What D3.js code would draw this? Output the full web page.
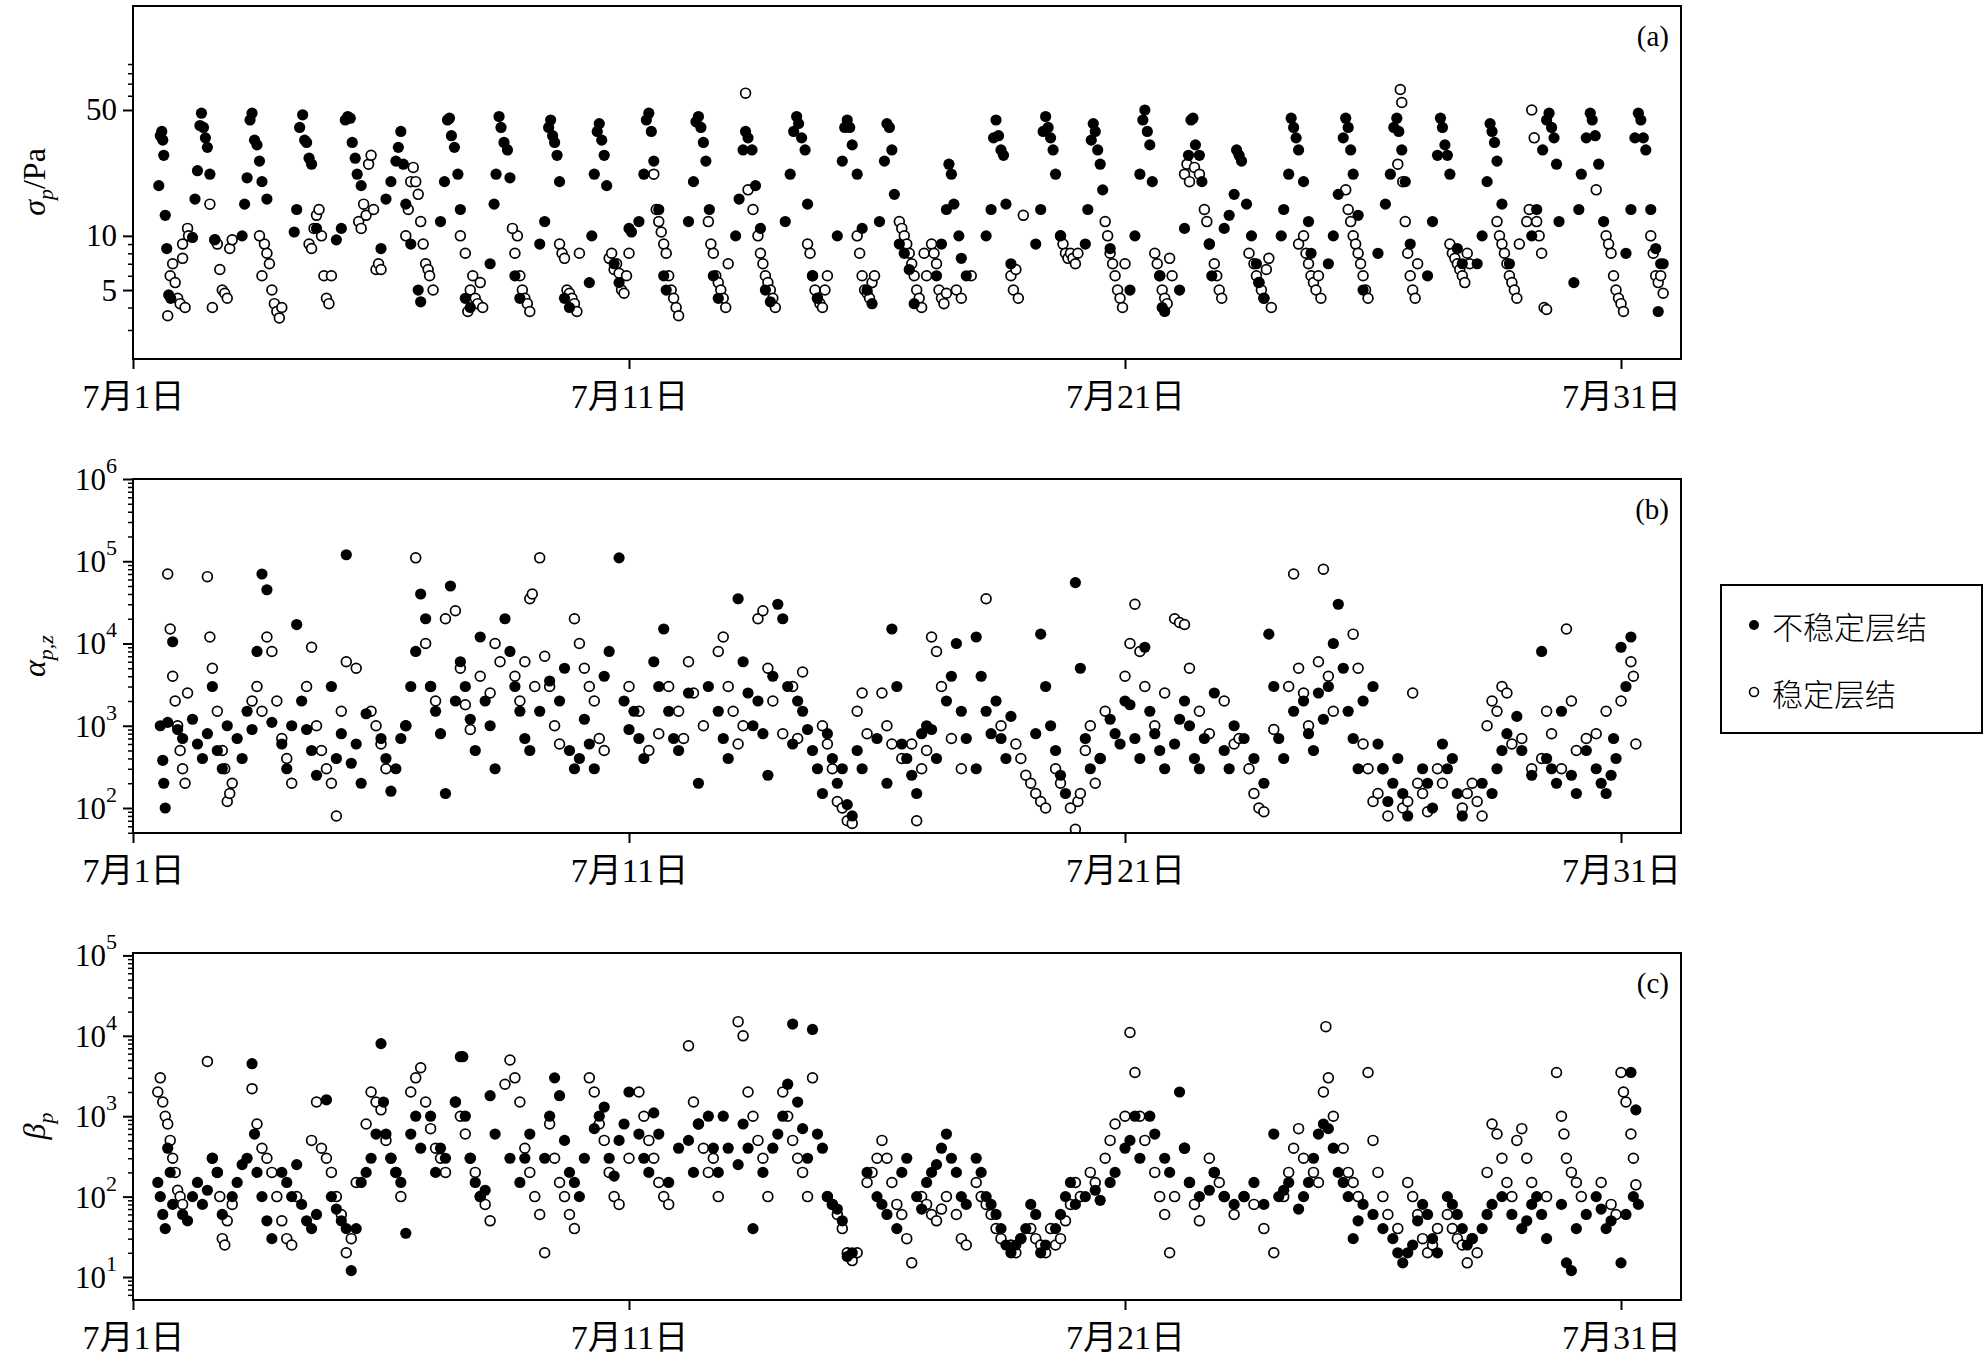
<!DOCTYPE html>
<html><head><meta charset="utf-8">
<script src="https://cdn.jsdelivr.net/npm/d3@7"></script>
<style>body{margin:0;background:#fff}</style></head><body>
<script>
const xTickDays=[1,11,21,31];
const xTickLabels=["7月1日","7月11日","7月21日","7月31日"];
const legendLabels=["不稳定层结","稳定层结"];
const aTicks=[5,10,50];
const aMinor=[3,4,6,7,8,9,60,70,80,90];
const bTicks=[2,3,4,5,6];
const cTicks=[1,2,3,4,5];
const minorMult=[2,3,4,5,6,7,8,9];

const PA_U=[[1.52,19],[1.55,36],[1.58,38],[1.6,34],[1.62,28],[1.65,13],[1.68,8.5],[1.72,4.7],[1.76,4.5],
[2.2,9.8],[2.25,16],[2.3,23],[2.35,41],[2.38,48],[2.42,40],[2.46,35],[2.5,31],[2.55,22],[2.65,9.5],
[3.2,10],[3.25,15],[3.3,21],[3.36,44],[3.4,48],[3.45,34],[3.5,32],[3.55,26],[3.6,20],[3.7,16],
[4.25,10.5],[4.3,14],[4.36,40],[4.42,47],[4.46,34],[4.5,33],[4.55,27],[4.6,25],[4.7,11],
[5.1,9.5],[5.2,11],[5.28,44],[5.33,46],[5.38,45],[5.42,33],[5.48,27],[5.52,22],[5.6,19],
[6.0,8.5],[6.1,16],[6.2,20],[6.3,26],[6.35,31],[6.4,38],[6.45,25],[6.5,15],[6.6,9],[6.75,5],[6.8,4.3],
[7.2,12],[7.28,20],[7.34,44],[7.38,45],[7.42,36],[7.48,31],[7.55,22],[7.6,14],[7.7,4.5],[7.8,4],
[8.2,7],[8.28,15],[8.32,22],[8.38,46],[8.42,40],[8.48,33],[8.55,30],[8.6,21],[8.7,6],[8.8,4.5],
[9.2,9],[9.3,12],[9.38,40],[9.42,44],[9.46,36],[9.5,33],[9.55,28],[9.6,20],[9.7,4.5],[9.8,4],
[10.2,5.5],[10.25,10],[10.3,22],[10.36,38],[10.4,42],[10.45,34],[10.5,28],[10.55,19],[10.7,7],[10.8,5.5],
[11.0,11],[11.05,10.5],[11.2,12],[11.3,22],[11.35,44],[11.4,48],[11.45,38],[11.5,26],[11.6,14],[11.7,6],[11.75,5],
[12.2,12],[12.3,20],[12.35,43],[12.4,46],[12.45,40],[12.5,33],[12.55,26],[12.62,14],[12.7,6],[12.8,4.5],
[13.15,10],[13.22,16],[13.3,30],[13.35,38],[13.4,35],[13.48,30],[13.55,19],[13.65,11],[13.75,5],[13.85,4.3],
[14.15,12],[14.25,22],[14.32,38],[14.38,46],[14.42,42],[14.48,35],[14.55,30],[14.6,15],[14.7,6],[14.8,4.5],
[15.2,10],[15.3,26],[15.35,40],[15.4,44],[15.45,40],[15.5,32],[15.6,22],[15.7,11],[15.8,5],[15.9,4.2],
[16.05,12],[16.15,26],[16.2,42],[16.25,40],[16.3,30],[16.35,17],[16.45,9],[16.55,8],[16.65,6.5],[16.75,4.2],
[17.2,6],[17.3,9],[17.4,14],[17.45,25],[17.5,22],[17.55,15],[17.65,10],[17.7,7.5],[17.8,6],
[18.2,10],[18.3,14],[18.35,35],[18.4,44],[18.45,36],[18.5,30],[18.55,28],[18.6,15],[18.7,7],
[19.2,9],[19.3,14],[19.35,38],[19.4,46],[19.45,40],[19.5,35],[19.55,30],[19.6,22],[19.7,10],
[20.2,9],[20.25,14],[20.32,34],[20.36,42],[20.4,38],[20.45,30],[20.5,25],[20.55,18],[20.7,8.5],
[21.1,5],[21.2,10],[21.3,22],[21.36,44],[21.4,50],[21.45,38],[21.5,32],[21.55,20],[21.7,6],[21.75,4],[21.8,3.8],
[22.1,5],[22.2,11],[22.28,28],[22.33,44],[22.37,45],[22.42,32],[22.5,28],[22.55,20],[22.7,9],[22.75,6],
[23.0,11],[23.1,13],[23.2,17],[23.25,30],[23.3,28],[23.35,26],[23.45,15],[23.55,10],[23.65,7],[23.7,5.5],[23.8,4.5],
[24.15,10],[24.2,14],[24.3,22],[24.35,45],[24.4,40],[24.45,35],[24.5,30],[24.6,20],[24.7,12],[24.75,8],
[25.1,7],[25.2,10],[25.3,17],[25.4,35],[25.45,45],[25.5,40],[25.55,30],[25.6,22],[25.7,13],[25.8,5],
[26.1,8],[26.25,15],[26.35,22],[26.42,40],[26.48,45],[26.52,38],[26.58,30],[26.65,20],[26.75,9],
[27.1,6],[27.2,12],[27.3,28],[27.36,45],[27.4,40],[27.45,32],[27.5,28],[27.55,22],[27.7,8.5],[27.8,7],
[28.1,7],[28.2,10],[28.3,20],[28.36,42],[28.4,38],[28.45,33],[28.5,26],[28.6,15],[28.75,7],
[29.2,10],[29.3,14],[29.42,30],[29.5,44],[29.55,48],[29.6,40],[29.65,35],[29.7,25],[29.75,12],
[30.05,5.5],[30.15,14],[30.2,22],[30.3,35],[30.38,48],[30.42,44],[30.48,36],[30.55,25],[30.65,12],
[31.1,8],[31.2,14],[31.28,35],[31.35,48],[31.4,44],[31.45,35],[31.5,30],[31.6,14],[31.7,8.5],[31.75,3.8],[31.8,7],[31.85,7]];

const PA_S=[[1.75,6],[1.8,7],[1.85,5.5],[1.9,4.5],[1.95,4.2],[2.0,7.5],[2.05,4],[2.1,11],[2.12,10],[1.7,3.6],[2.0,9],
[2.6,4],[2.65,9.5],[2.7,9],[2.75,6.5],[2.8,5],[2.85,4.8],[2.9,4.5],[2.95,8.5],[3.0,9.5],[2.55,15],
[3.6,6],[3.65,9],[3.7,8],[3.75,7],[3.8,5],[3.85,4.2],[3.9,3.8],[3.95,3.5],[4.0,4],[3.55,10],
[4.55,9],[4.6,8.5],[4.65,11],[4.7,13],[4.75,14],[4.8,10],[4.85,6],[4.9,4.5],[4.95,4.2],[5.0,6],
[5.55,12],[5.6,11],[5.65,15],[5.7,13],[5.75,25],[5.8,28],[5.85,14],[5.9,6.5],[5.95,7],[6.0,6.5],
[6.5,10],[6.55,14],[6.6,20],[6.65,24],[6.7,20],[6.75,17],[6.8,12],[6.85,9],[6.9,7],[6.95,6.5],
[6.98,6],[7.05,5],[7.8,5],[7.85,6],[7.9,4.5],[7.95,4.2],[8.0,5.5],[8.05,4],[7.75,3.8],[7.6,10],[7.7,8],
[8.7,8],[8.75,10],[8.8,6],[8.85,5],[8.9,4.5],[8.95,4.2],[9.0,3.8],[8.65,11],
[9.6,9],[9.65,8],[9.7,7.5],[9.75,5],[9.8,4.8],[9.85,4.5],[9.9,4.2],[9.95,3.8],[10.0,8],
[10.6,7.5],[10.65,8],[10.7,6.5],[10.75,7],[10.8,6.2],[10.85,5],[10.9,4.8],[10.95,6],[11.0,8],
[11.55,14],[11.6,12],[11.65,10.5],[11.7,9],[11.75,8],[11.8,6],[11.85,5],[11.9,4.5],[11.95,4],[12.0,3.6],[11.5,22],
[12.6,12],[12.65,9],[12.7,8],[12.75,6],[12.8,5.5],[12.85,5],[12.9,4.5],[12.95,4],[13.0,7],
[13.6,10],[13.65,8],[13.7,7],[13.75,6],[13.8,5.5],[13.85,5],[13.9,4.5],[13.95,4],[13.35,62],[13.4,18],[13.5,14],
[14.6,9],[14.65,8],[14.7,6],[14.75,5],[14.8,4.5],[14.85,4.2],[14.9,4],[14.95,5],[15.0,6],
[15.6,10],[15.65,8],[15.7,6],[15.75,5],[15.8,4.8],[15.85,4.5],[15.9,5.5],[15.95,6],
[16.45,12],[16.5,11],[16.55,10],[16.6,9],[16.65,8],[16.7,7],[16.75,6],[16.8,5],[16.85,4.5],[16.9,4],[16.95,8],[17.0,6],
[17.1,9],[17.15,8],[17.2,7],[17.25,5],[17.3,4.5],[17.35,4.2],[17.4,4.8],[17.6,5],[17.7,4.5],[17.9,6],
[18.7,6],[18.75,5],[18.8,6.5],[18.85,4.5],[18.95,13],
[19.7,10],[19.75,9],[19.8,8],[19.85,7.5],[19.9,8],[19.95,7.5],[20.0,7],[20.05,8],
[20.6,12],[20.65,10],[20.7,8],[20.75,7],[20.8,6],[20.85,5],[20.9,4.5],[20.95,4],[21.0,7],
[21.6,8],[21.65,7],[21.7,6],[21.75,5],[21.8,4.5],[21.85,4.2],[21.9,7.5],[21.95,6],
[22.2,22],[22.25,25],[22.3,20],[22.4,24],[22.5,22],[22.6,14],[22.65,12],[22.7,9],[22.8,7],[22.85,6],[22.9,5],[22.95,4.5],
[23.5,8],[23.6,7],[23.65,6],[23.7,5.5],[23.75,5],[23.8,4.5],[23.85,6.5],[23.9,7.5],[23.95,4],
[24.5,9],[24.6,10],[24.65,8],[24.7,7],[24.75,6],[24.8,5.5],[24.85,5],[24.9,6],[24.95,4.5],
[25.55,12],[25.6,10],[25.65,9],[25.7,8],[25.75,7],[25.8,6],[25.85,5],[25.9,4.5],[25.45,18],[25.5,14],
[26.5,25],[26.55,65],[26.58,55],[26.6,20],[26.65,12],[26.7,8],[26.75,6],[26.8,5],[26.85,4.5],[26.9,7],
[27.55,9],[27.6,8],[27.65,7.5],[27.7,7],[27.75,6.5],[27.8,6],[27.85,5.5],[27.9,8],[27.95,7],
[28.5,12],[28.55,10],[28.6,9],[28.65,8],[28.7,7],[28.75,6],[28.8,5.5],[28.85,5],[28.9,4.5],[28.95,9],
[29.1,12],[29.15,14],[29.2,50],[29.25,35],[29.3,12],[29.35,10],[29.4,8],[29.45,4],[29.5,3.9],
[30.7,10],[30.75,9],[30.8,8],[30.85,6],[30.9,5],[30.95,4.5],[31.0,4.2],[31.05,3.8],[30.5,18],
[31.6,10],[31.65,8],[31.7,6],[31.75,5.5],[31.8,6],[31.85,4.8]];

const PB_U=[[1.55,1000],[1.6,380],[1.62,200],[1.65,100],[1.7,1100],[1.8,10500],[1.9,900],[2.0,700],
[2.2,1200],[2.3,600],[2.4,400],[2.5,800],[2.6,3000],[2.7,500],[2.8,300],[2.9,1000],
[3.1,700],[3.2,400],[3.3,1500],[3.4,900],[3.5,8000],[3.6,70000],[3.7,45000],[3.8,1100],
[4.0,600],[4.1,300],[4.2,1000],[4.3,17000],[4.4,2000],[4.5,900],[4.6,500],[4.7,250],
[5.0,3000],[5.1,400],[5.2,800],[5.3,120000],[5.4,350],[5.5,600],[5.6,200],[5.7,1400],
[6.0,700],[6.1,400],[6.2,160],[6.3,300],[6.4,700],[6.5,1000],[6.6,3000],[6.7,8000],
[6.8,40000],[6.9,20000],[7.0,3000],[7.1,1500],[7.2,800],[7.3,150],[7.4,50000],[7.5,2000],
[7.6,6000],[7.7,3000],[7.8,1200],[7.9,500],[8.0,12000],[8.1,2000],[8.2,1000],[8.3,300],
[8.5,20000],[8.6,8000],[8.7,3000],[8.8,1500],[8.9,700],[9.0,500],[9.2,1500],[9.4,3500],
[9.6,2000],[9.7,5000],[9.8,500],[9.9,300],[10.0,400],[10.1,1200],[10.2,600],[10.3,300],
[10.5,4000],[10.6,8000],[10.8,110000],[10.9,2000],[11.0,900],[11.1,1500],[11.2,700],[11.3,400],
[11.5,6000],[11.6,3000],[11.7,15000],[11.8,1500],[11.9,700],[12.0,500],[12.2,2500],[12.4,200],
[12.6,3000],[12.8,1500],[12.9,700],[13.0,400],[13.2,35000],[13.3,6000],[13.4,2500],[13.5,1000],
[13.6,2000],[13.7,800],[13.8,250],[13.9,4000],[14.0,30000],[14.1,20000],[14.2,3000],[14.3,600],
[14.4,2000],[14.5,1500],[14.6,900],[14.7,500],[14.8,300],[14.9,150],[15.0,800],[15.1,400],
[15.2,200],[15.3,300],[15.4,110],[15.5,80],[15.6,500],[15.7,300],[16.0,700],[16.2,200],
[16.3,15000],[16.4,3000],[16.5,600],[16.6,400],[16.7,250],[16.8,150],[16.9,800],[17.0,1000],
[17.1,900],[17.2,400],[17.4,2000],[17.5,4000],[17.6,10000],[17.7,1500],[17.8,700],[18.0,300],
[18.0,12000],[18.1,4000],[18.2,1500],[18.3,800],[18.4,2000],[18.5,700],[18.6,400],[18.7,1300],
[19.2,800],[19.3,13000],[19.4,3000],[19.5,1000],[19.6,500],[19.7,250],[19.8,150],[20.0,55000],
[20.1,5000],[20.2,700],[20.3,300],[20.5,400],[20.7,1200],[20.8,800],[20.9,600],[21.0,2000],
[21.1,1800],[21.2,700],[21.3,400],[21.4,9000],[21.5,1500],[21.6,800],[21.7,500],[21.8,300],
[22.0,600],[22.1,1200],[22.2,2000],[22.3,1000],[22.4,400],[22.5,300],[22.6,700],[22.8,2500],
[23.0,500],[23.1,300],[23.2,1000],[23.4,700],[23.6,400],[23.8,200],[23.9,13000],[24.0,3000],
[24.1,700],[24.2,400],[24.4,1500],[24.6,2000],[24.7,800],[24.8,500],[24.9,2500],[25.0,1200],
[25.1,3000],[25.2,10000],[25.3,30000],[25.4,5000],[25.5,1500],[25.6,700],[25.7,300],[25.8,2000],
[26.0,3000],[26.1,600],[26.2,300],[26.3,120],[26.4,200],[26.5,400],[26.6,150],[26.7,80],
[27.0,300],[27.1,200],[27.2,100],[27.4,600],[27.5,300],[27.6,400],[27.7,150],[27.8,80],
[28.2,200],[28.4,150],[28.5,300],[28.6,500],[28.7,800],[28.9,1300],[29.0,500],[29.2,250],
[29.4,8000],[29.5,400],[29.6,300],[29.7,200],[29.8,1500],[30.0,250],[30.1,150],[30.3,500],
[30.5,300],[30.6,200],[30.7,150],[30.8,250],[30.9,400],[31.0,9000],[31.1,3000],[31.2,12000],[30.85,700]];

const PB_S=[[1.7,70000],[1.75,15000],[1.8,4000],[1.85,2000],[1.9,1000],[1.95,500],[2.0,300],[2.05,200],[2.1,2500],
[2.5,65000],[2.55,12000],[2.6,5000],[2.7,1500],[2.8,500],[2.85,300],[2.9,120],[2.95,150],[3.0,200],
[3.4,2000],[3.5,3000],[3.6,1500],[3.7,12000],[3.8,8000],[3.9,2000],[4.0,700],[4.1,400],[4.2,200],
[4.5,3000],[4.6,9000],[4.7,1000],[4.8,500],[4.9,300],[5.0,200],[5.1,80],[5.2,1500],[5.3,6000],[5.5,5000],
[5.8,1500],[5.9,1000],[6.0,600],[6.1,300],[6.5,1000],[6.7,110000],[6.9,10000],[7.0,3000],[7.1,2000],
[7.3,20000],[7.5,25000],[7.6,5000],[7.7,1800],[7.8,900],[8.0,4000],[8.2,2500],[8.3,10000],[8.4,6000],
[8.7,4000],[8.8,2000],[8.9,6000],[9.0,35000],[9.05,40000],[9.1,3000],[9.2,110000],[9.3,7000],[9.4,3000],[9.5,1000],[9.6,600],
[9.9,20000],[10.0,10000],[10.1,5000],[10.2,3000],[10.3,2000],[10.4,700],[10.5,500],
[11.0,3000],[11.2,1500],[11.4,500],[11.6,800],[11.8,3000],[12.0,1500],[12.1,700],[12.2,6000],[12.3,2500],[12.5,1000],
[12.8,8000],[12.9,12000],[13.0,3000],[13.1,1500],[13.2,600],[13.3,1000],
[13.6,20000],[13.7,25000],[13.8,5000],[13.9,2000],[14.1,800],[14.3,3000],[14.4,700],[14.5,4500],
[14.9,1000],[15.0,600],[15.1,300],[15.2,120],[15.3,100],[15.4,70],[15.5,65],[15.6,1500],[15.7,2500],[15.8,800],
[16.1,2500],[16.2,1000],[16.3,600],[16.5,400],[16.7,600],[16.8,70],[16.9,300],[17.0,500],[17.1,12000],[17.2,8000],[17.3,3000],[17.5,700],[17.7,300],
[18.2,35000],[18.5,1000],[18.8,600],[18.9,400],[19.0,250],[19.1,200],[19.2,150],[19.3,120],[19.4,100],[19.6,300],[19.7,200],
[19.9,100],[20.0,55],[20.05,120],[20.1,150],[20.2,500],[20.3,1000],[20.4,200],[20.5,400],[20.6,1500],
[21.0,4000],[21.1,10000],[21.2,30000],[21.3,8000],[21.4,3000],[21.6,1000],[21.8,2500],[22.0,20000],[22.1,18000],[22.2,17000],[22.3,5000],[22.5,1500],[22.7,800],
[23.0,2000],[23.2,600],[23.3,700],[23.5,300],[23.6,150],[23.7,100],[23.8,90],[24.0,900],
[24.3,3000],[24.4,70000],[24.5,5000],[24.6,2500],[24.7,1000],[24.9,6000],[25.0,80000],[25.1,4000],[25.2,1500],
[25.6,13000],[25.7,5000],[25.8,600],[25.9,300],[26.0,120],[26.1,150],[26.2,300],[26.3,80],
[26.6,100],[26.7,120],[26.8,2500],[26.9,200],[27.0,150],[27.1,90],[27.3,300],[27.4,200],
[27.8,100],[27.9,150],[28.0,200],[28.1,120],[28.2,80],[28.3,1000],[28.4,2000],[28.5,1500],[28.6,3000],[28.7,2500],[28.8,600],
[29.0,700],[29.2,300],[29.4,400],[29.5,1500],[29.6,800],[29.8,300],[29.9,15000],[30.0,2000],[30.1,500],[30.3,700],[30.5,800],[30.7,1500],[31.0,2000],[31.2,6000],[31.25,4000],[31.3,600]];

const PC_U=[[1.5,150],[1.55,100],[1.6,60],[1.65,40],[1.7,400],[1.75,200],[1.8,80],
[2.0,60],[2.1,50],[2.2,100],[2.3,150],[2.4,80],[2.5,120],[2.6,300],[2.7,200],[2.8,60],
[3.0,100],[3.1,150],[3.2,250],[3.3,300],[3.4,4500],[3.45,600],[3.5,200],[3.6,100],[3.7,50],[3.8,30],
[4.0,200],[4.1,150],[4.2,100],[4.3,250],[4.4,80],[4.5,50],[4.6,40],[4.7,60],[4.9,1600],[5.0,100],
[5.1,70],[5.2,50],[5.3,40],[5.4,12],[5.5,40],[5.6,150],[5.7,200],[5.8,300],[5.9,600],
[6.0,8000],[6.05,1500],[6.1,600],[6.2,300],[6.3,200],[6.4,150],[6.5,35],[6.6,600],[6.7,1000],[6.8,400],
[7.0,1000],[7.1,200],[7.2,400],[7.3,300],[7.5,1500],[7.6,5500],[7.65,5500],[7.7,1000],[7.8,300],[7.9,150],
[8.0,100],[8.1,120],[8.2,1800],[8.3,600],[8.6,300],[8.8,150],[8.9,300],[9.0,600],
[9.3,300],[9.4,1000],[9.5,3000],[9.6,1800],[9.7,500],[9.8,200],[9.9,150],[10.0,100],[10.1,300],
[10.3,700],[10.4,1000],[10.5,1300],[10.6,300],[10.7,180],[10.8,500],[10.9,800],[11.0,2000],
[11.2,600],[11.3,300],[11.4,200],[11.5,1100],[11.6,600],[11.8,150],[12.0,400],[12.2,500],[12.3,200],[12.4,800],
[12.6,1000],[12.7,400],[12.8,200],[12.9,1000],[13.0,400],[13.2,250],[13.3,800],[13.4,400],[13.5,40],
[13.7,200],[13.9,400],[14.0,600],[14.1,1000],[14.2,2500],[14.3,14000],[14.4,1500],[14.5,700],[14.6,300],
[14.7,12000],[14.8,600],[14.9,400],[15.0,100],[15.1,80],[15.2,70],[15.3,50],[15.4,18],[15.5,20],
[15.8,200],[16.0,100],[16.1,80],[16.2,60],[16.4,40],[16.5,200],[16.6,300],[16.8,100],[16.9,70],
[17.0,150],[17.1,200],[17.2,250],[17.3,400],[17.4,600],[17.5,300],[17.6,200],[17.7,100],[17.8,80],
[18.0,300],[18.1,200],[18.2,100],[18.3,80],[18.4,60],[18.5,40],[18.6,25],[18.7,20],[18.8,25],[18.9,30],
[19.0,40],[19.1,80],[19.2,60],[19.3,20],[19.4,25],[19.6,40],[19.7,60],[19.8,100],[19.9,150],[20.0,80],
[20.2,100],[20.4,120],[20.5,90],[20.7,150],[20.8,200],[21.0,400],[21.1,500],[21.2,1000],[21.3,300],
[21.5,1000],[21.6,600],[21.8,300],[21.9,200],[22.1,2000],[22.2,400],[22.3,150],[22.5,100],
[22.7,120],[22.8,200],[23.0,100],[23.2,80],[23.4,100],[23.6,150],[23.8,80],[24.0,600],[24.1,100],
[24.2,120],[24.3,150],[24.5,70],[24.6,100],[24.7,150],[24.8,300],[24.9,600],[25.0,800],[25.1,700],
[25.2,400],[25.3,200],[25.4,150],[25.5,100],[25.6,30],[25.7,50],[25.8,80],[26.0,60],[26.2,40],
[26.4,30],[26.5,20],[26.6,15],[26.7,20],[26.8,25],[26.9,50],[27.0,80],[27.1,60],[27.2,30],[27.3,20],
[27.5,100],[27.6,80],[27.7,60],[27.8,40],[27.9,25],[28.0,30],[28.2,40],[28.3,60],[28.4,80],
[28.6,100],[28.8,60],[29.0,40],[29.1,50],[29.2,80],[29.3,100],[29.4,60],[29.5,30],
[29.8,80],[29.9,15],[30.0,12],[30.1,40],[30.3,60],[30.5,100],[30.6,70],[30.7,40],[30.8,50],
[31.0,15],[31.1,60],[31.2,3500],[31.3,1200],[31.25,100],[31.35,80]];

const PC_S=[[1.5,2000],[1.55,3000],[1.6,1500],[1.65,1000],[1.7,800],[1.75,500],[1.8,300],[1.85,200],[1.9,120],[1.95,100],[2.0,80],
[2.5,4800],[2.6,300],[2.7,200],[2.75,100],[2.8,30],[2.85,25],[2.9,50],[3.0,80],
[3.4,2200],[3.5,800],[3.6,400],[3.7,300],[3.8,200],[3.9,100],[4.0,50],[4.1,30],[4.2,25],[4.3,100],
[4.6,500],[4.7,1500],[4.8,400],[4.9,300],[5.0,200],[5.1,100],[5.2,60],[5.3,20],[5.4,30],[5.5,150],
[5.7,800],[5.8,2000],[5.9,1500],[6.0,1200],[6.1,500],[6.2,300],[6.3,200],[6.4,100],
[6.6,2000],[6.7,3000],[6.8,4000],[6.9,1500],[7.0,700],[7.1,400],[7.2,300],[7.3,200],
[7.5,1500],[7.6,1000],[7.7,600],[7.8,300],[7.9,200],[8.0,100],[8.1,80],[8.2,50],
[8.5,2500],[8.6,5000],[8.7,3000],[8.8,1500],[8.9,400],[9.0,200],[9.1,100],[9.2,60],[9.3,20],
[9.4,800],[9.5,300],[9.6,150],[9.7,100],[9.8,60],[9.9,40],
[10.2,3000],[10.3,2000],[10.4,800],[10.5,500],[10.6,200],[10.7,100],[10.8,80],[11.0,300],
[11.2,2000],[11.3,1000],[11.4,500],[11.5,300],[11.6,150],[11.7,100],[11.8,80],
[12.2,7500],[12.3,1500],[12.4,800],[12.5,400],[12.6,200],[12.7,300],[12.8,100],
[13.2,15000],[13.3,10000],[13.4,2000],[13.5,1000],[13.6,500],[13.7,300],[13.8,100],
[14.1,2000],[14.2,1000],[14.3,500],[14.4,300],[14.5,200],[14.6,100],[14.7,3000],
[15.0,100],[15.1,80],[15.2,60],[15.3,40],[15.4,20],[15.5,16],[15.6,20],
[15.8,150],[15.9,200],[16.0,300],[16.1,500],[16.2,300],[16.3,150],[16.4,80],[16.5,60],[16.6,30],[16.7,15],
[16.9,100],[17.0,80],[17.1,60],[17.2,50],[17.3,70],[17.4,100],[17.6,60],[17.7,30],[17.8,25],
[18.0,150],[18.1,100],[18.2,80],[18.3,60],[18.4,40],[18.5,30],[18.7,25],[18.8,20],[18.9,30],
[19.1,40],[19.2,30],[19.3,25],[19.4,20],[19.5,40],[19.6,25],[19.7,30],[19.8,50],[19.9,80],[20.0,150],[20.1,100],
[20.3,200],[20.4,150],[20.6,300],[20.7,500],[20.8,800],[21.0,1000],[21.1,11000],[21.2,3500],[21.3,1000],[21.4,500],
[21.6,200],[21.7,100],[21.8,60],[21.9,20],[22.0,100],[22.2,400],[22.3,150],[22.4,80],[22.5,50],
[22.7,300],[22.8,200],[22.9,150],[23.0,100],[23.2,60],[23.4,100],[23.6,80],[23.8,40],[24.0,20],
[24.2,100],[24.3,200],[24.4,400],[24.5,700],[24.6,300],[24.8,200],[24.9,150],[25.0,2000],[25.05,13000],[25.1,3000],[25.2,1000],
[25.4,400],[25.5,200],[25.6,150],[25.7,100],[25.9,3500],[26.0,500],[26.1,200],[26.2,100],[26.3,60],
[26.5,40],[26.7,150],[26.8,100],[26.9,60],[27.0,30],[27.1,20],[27.2,25],[27.3,40],
[27.5,60],[27.6,40],[27.7,30],[27.8,25],[27.9,15],[28.0,30],[28.1,20],
[28.3,200],[28.4,800],[28.5,600],[28.6,300],[28.7,150],[28.8,100],[28.9,500],[29.0,700],[29.1,300],[29.2,150],
[29.5,100],[29.7,3500],[29.8,1000],[29.85,600],[29.9,300],[30.0,200],[30.1,150],[30.2,100],
[30.6,150],[30.8,80],[30.9,60],[31.0,3500],[31.05,2000],[31.1,1500],[31.2,600],[31.25,300],[31.3,140]];

const W=1988,H=1364;
const svg=d3.select("body").append("svg").attr("width",W).attr("height",H).style("font-family","'Liberation Serif',serif");
const L=133,R=1681;
const x=d3.scaleLinear().domain([1,1+(R-L)/49.6]).range([L,R]);
const R0=5.6;
function decMinor(e0,e1){const a=[];for(let e=e0;e<e1;e++)minorMult.forEach(m=>a.push(m*Math.pow(10,e)));return a;}
const panels=[
 {top:6,bot:359,dom:[2.07,189],U:PA_U,S:PA_S,tag:"(a)",ticks:aTicks,minor:aMinor,fmt:"plain"},
 {top:479,bot:833,dom:[Math.pow(10,1.696),1e6],U:PB_U,S:PB_S,tag:"(b)",ticks:bTicks.map(e=>Math.pow(10,e)),minor:decMinor(1,6),fmt:"exp"},
 {top:953,bot:1300,dom:[Math.pow(10,0.714),Math.pow(10,5.03)],U:PC_U,S:PC_S,tag:"(c)",ticks:cTicks.map(e=>Math.pow(10,e)),minor:decMinor(0,5),fmt:"exp"}
];
panels.forEach((p,i)=>{
 const y=d3.scaleLog().domain(p.dom).range([p.bot,p.top]);
 const g=svg.append("g");
 const clip="c"+i;
 svg.append("clipPath").attr("id",clip).append("rect").attr("x",L).attr("y",p.top).attr("width",R-L).attr("height",p.bot-p.top);
 const pts=g.append("g").attr("clip-path",`url(#${clip})`);
 pts.selectAll(".s").data(p.S).join("circle").attr("cx",d=>x(d[0])).attr("cy",d=>y(d[1])).attr("r",R0-0.7).attr("fill","#fff").attr("stroke","#000").attr("stroke-width",1.7);
 pts.selectAll(".u").data(p.U).join("circle").attr("cx",d=>x(d[0])).attr("cy",d=>y(d[1])).attr("r",R0).attr("fill","#000");
 g.append("rect").attr("x",L).attr("y",p.top).attr("width",R-L).attr("height",p.bot-p.top).attr("fill","none").attr("stroke","#000").attr("stroke-width",2);
 const xa=d3.axisBottom(x).tickValues(xTickDays).tickFormat((d,k)=>xTickLabels[k]).tickSize(10).tickSizeOuter(0);
 const gx=g.append("g").attr("transform",`translate(0,${p.bot})`).call(xa);
 gx.select(".domain").remove();
 gx.selectAll("line").attr("stroke-width",2);
 gx.selectAll("text").attr("font-size",34).attr("dy","1.05em").attr("fill","#000").style("font-family","'Liberation Serif','Noto Sans CJK SC',serif");
 const ya=d3.axisLeft(y).tickValues(p.ticks).tickFormat(()=>"").tickSize(10).tickSizeOuter(0);
 const gy=g.append("g").attr("transform",`translate(${L},0)`).call(ya);
 gy.select(".domain").remove();
 gy.selectAll("line").attr("stroke-width",2);
 const ym=d3.axisLeft(y).tickValues(p.minor.filter(v=>v>=p.dom[0]&&v<=p.dom[1])).tickFormat(()=>"").tickSize(5).tickSizeOuter(0);
 const gm=g.append("g").attr("transform",`translate(${L},0)`).call(ym);
 gm.select(".domain").remove(); gm.selectAll("line").attr("stroke-width",1.5);
 p.ticks.forEach(v=>{
  const t=g.append("text").attr("x",L-16).attr("y",y(v)).attr("text-anchor","end").attr("dominant-baseline","central").attr("font-size",31);
  if(p.fmt==="plain") t.text(v);
  else { t.append("tspan").text("10"); t.append("tspan").attr("dy",-14).attr("font-size",22).text(Math.round(Math.log10(v))); }
 });
 g.append("text").attr("x",R-12).attr("y",p.top+40).attr("text-anchor","end").attr("font-size",29).text(p.tag);
});
function ylab(cy, base, sub, tail){
 const t=svg.append("text").attr("transform",`translate(45,${cy}) rotate(-90)`).attr("text-anchor","middle").attr("font-size",32);
 t.append("tspan").attr("font-style","italic").text(base);
 t.append("tspan").attr("font-style","italic").attr("font-size",22).attr("dy",8).text(sub);
 if(tail) t.append("tspan").attr("dy",-8).text(tail);
}
ylab(182,"σ","p","/Pa");
ylab(656,"α","p,z","");
ylab(1126,"β","p","");
const lg=svg.append("g");
lg.append("rect").attr("x",1721).attr("y",585).attr("width",261).attr("height",148).attr("fill","#fff").attr("stroke","#000").attr("stroke-width",2);
lg.append("circle").attr("cx",1754).attr("cy",625).attr("r",5).attr("fill","#000");
lg.append("circle").attr("cx",1754).attr("cy",692).attr("r",4.5).attr("fill","#fff").attr("stroke","#000").attr("stroke-width",1.6);
legendLabels.forEach((s,k)=>lg.append("text").attr("x",1772).attr("y",625+k*67).attr("dominant-baseline","central").attr("font-size",31).style("font-family","'Noto Sans CJK SC',sans-serif").style("font-weight",300).text(s));
</script></body></html>
